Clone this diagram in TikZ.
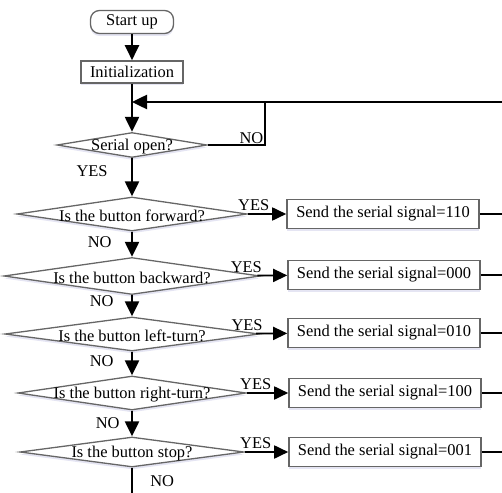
\documentclass[tikz,border=0pt]{standalone}
\usepackage{fontspec}
\setmainfont{Liberation Serif}
\usetikzlibrary{arrows.meta,shapes.geometric,shadows}
\tikzset{
shapeline/.style={draw=black!60, line width=1.3bp, fill=white,
    drop shadow={shadow xshift=0bp, shadow yshift=-2.5bp, opacity=.15, fill=blue!35!gray}},
terminal/.style={shapeline, rectangle, rounded corners=9bp, minimum width=83bp, minimum height=23bp, inner sep=0pt},
process/.style={shapeline, rectangle, line width=1.6bp, minimum width=192bp, minimum height=29bp, inner sep=0pt},
decision/.style={shapeline, diamond, inner sep=0pt},
arr/.style={-{Triangle[length=15bp,width=14bp]}, line width=2.2bp},
harr/.style={-{Triangle[length=14bp,width=13bp]}, line width=1.8bp},
link/.style={line width=1.5bp},
yes/.style={above, pos=0, inner sep=2bp},
every label/.style={yshift=-2bp},
}
\tikzstyle{every node}=[font=\fontsize{16.5}{19}\selectfont]

\begin{document}
\begin{tikzpicture}[x=1bp,y=-1bp]
    \useasboundingbox (0,0) rectangle (502,493);

    % start and initialisation
    \node[terminal] (start) at (132,22) {Start up};
    \node[process, minimum width=102bp, minimum height=22bp] (init) at (132,72) {Initialization};
    \coordinate (loop) at (132,102);
    \coordinate (loopR) at (502,102);
    \coordinate (noJoin) at (265,102);
    \coordinate (endB) at (132,493);

    % decisions
    \node[decision, minimum width=150bp, minimum height=25bp, label=center:{Serial open?}] (serial) at (132,145) {};
    \node[decision, minimum width=230bp, minimum height=34bp, label=center:{Is the button forward?}] (fwd) at (132,214) {};
    \node[decision, minimum width=256bp, minimum height=37bp, label=center:{Is the button backward?}] (bwd) at (132,276) {};
    \node[decision, minimum width=254bp, minimum height=34bp, label=center:{Is the button left-turn?}] (lft) at (132,334) {};
    \node[decision, minimum width=228bp, minimum height=34bp, label=center:{Is the button right-turn?}] (rgt) at (132,393) {};
    \node[decision, minimum width=224bp, minimum height=30bp, label=center:{Is the button stop?}] (stp) at (132,452) {};

    % serial signals
    \node[process] (sFwd) at (383,214) {Send the serial signal=110};
    \node[process] (sBwd) at (384,275) {Send the serial signal=000};
    \node[process] (sLft) at (384,333) {Send the serial signal=010};
    \node[process] (sRgt) at (385,393) {Send the serial signal=100};
    \node[process] (sStp) at (385,452) {Send the serial signal=001};

    % main line
    \draw[arr] (start) -- (init);
    \draw[arr] (init) -- (serial);
    \draw[arr, line width=2.5bp] (loopR) -- (loop);
    \draw[link] (serial.east) -- (serial.east -| noJoin)
        node[above left, inner sep=1bp] {NO} -- (noJoin);
    \draw[arr] (serial) -- node[left=20bp, pos=.35] {YES} (fwd);
    \draw[arr] (fwd) -- node[left=16bp, pos=.4] {NO} (bwd);
    \draw[arr] (bwd) -- node[left=14bp, pos=.3] {NO} (lft);
    \draw[arr] (lft) -- node[left=14bp, pos=.4] {NO} (rgt);
    \draw[arr] (rgt) -- node[left=8bp, pos=.5] {NO} (stp);
    \draw[line width=2bp] (stp) -- node[right=14bp, pos=.55] {NO} (endB);

    % YES branches
    \draw[harr] (fwd) -- node[yes, xshift=6bp] {YES} (sFwd);
    \draw[harr] (bwd) -- node[yes, xshift=-11bp] {YES} (sBwd);
    \draw[harr] (lft) -- node[yes, xshift=-9bp] {YES} (sLft);
    \draw[harr] (rgt) -- node[yes, xshift=9bp] {YES} (sRgt);
    \draw[harr] (stp) -- node[yes, xshift=11bp] {YES} (sStp);

    \draw[link] (sFwd) -- (sFwd -| loopR);
    \draw[link] (sBwd) -- (sBwd -| loopR);
    \draw[link] (sLft) -- (sLft -| loopR);
    \draw[link] (sRgt) -- (sRgt -| loopR);
    \draw[link] (sStp) -- (sStp -| loopR);
\end{tikzpicture}
\end{document}
